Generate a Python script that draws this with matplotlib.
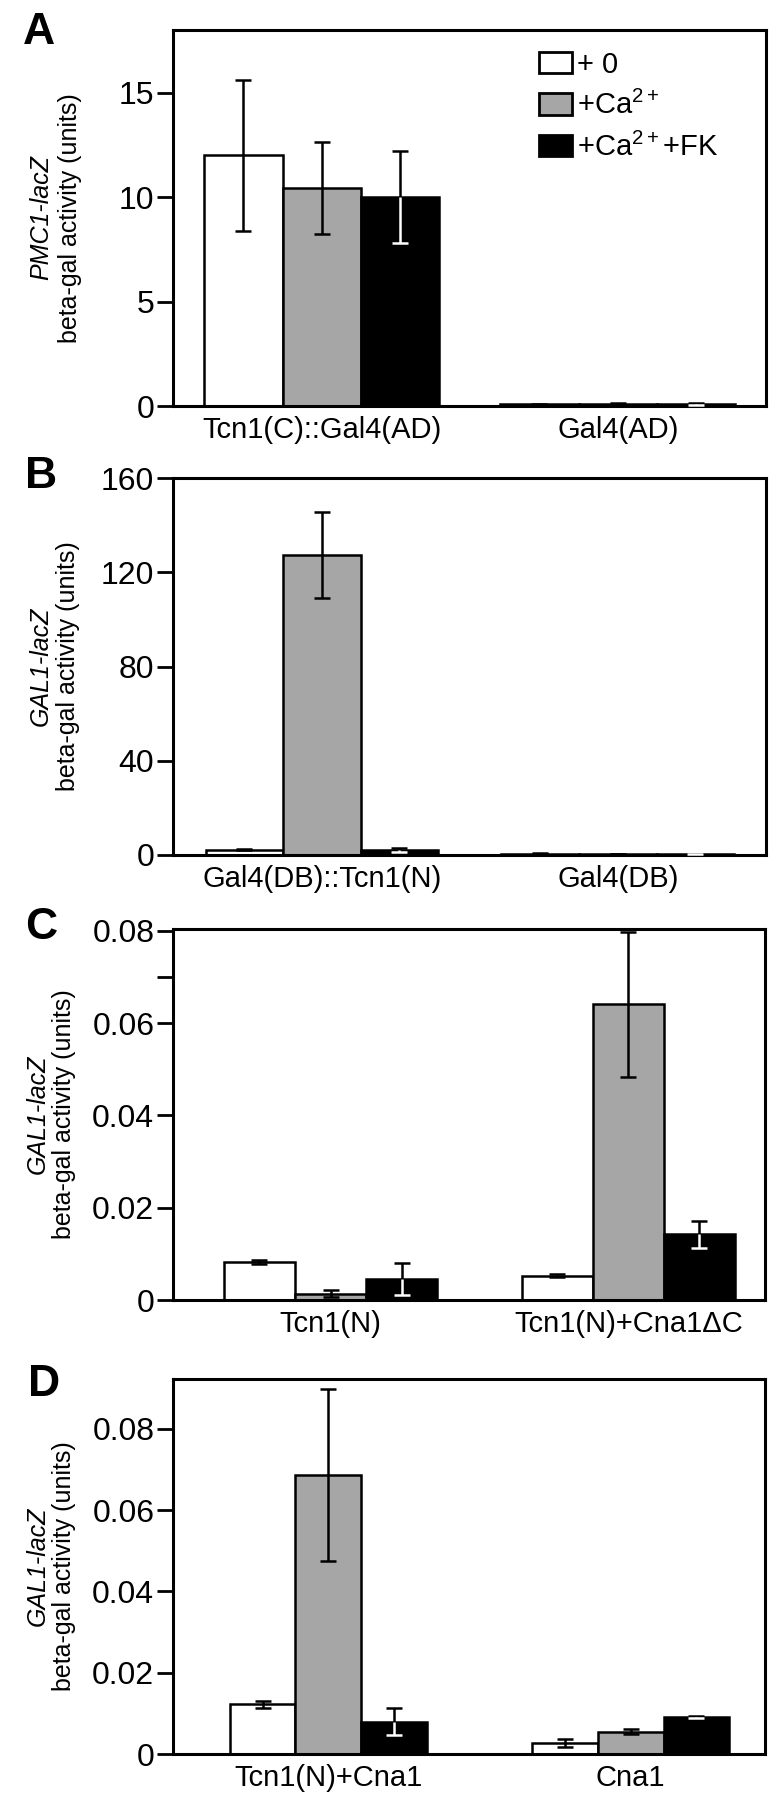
import numpy as np
import matplotlib
matplotlib.use("Agg")
import matplotlib.pyplot as plt
from matplotlib.patches import Patch

# ---- data ----
conditions = ["+ 0", "+Ca$^{2+}$", "+Ca$^{2+}$+FK"]

a_groups = ["Tcn1(C)::Gal4(AD)", "Gal4(AD)"]
a_zero = [12.0, 0.08]
a_ca = [10.45, 0.10]
a_fk = [10.0, 0.10]
a_zero_err = [3.6, 0.03]
a_ca_err = [2.2, 0.04]
a_fk_err = [2.2, 0.05]

b_groups = ["Gal4(DB)::Tcn1(N)", "Gal4(DB)"]
b_zero = [2.3, 0.6]
b_ca = [127.3, 0.5]
b_fk = [2.1, 0.5]
b_zero_err = [0.3, 0.1]
b_ca_err = [18.3, 0.1]
b_fk_err = [0.8, 0.1]

c_groups = ["Tcn1(N)", "Tcn1(N)+Cna1\u0394C"]
c_zero = [0.0082, 0.0053]
c_ca = [0.0014, 0.0641]
c_fk = [0.0045, 0.0142]
c_zero_err = [0.0004, 0.0004]
c_ca_err = [0.0007, 0.0157]
c_fk_err = [0.0035, 0.0030]

d_groups = ["Tcn1(N)+Cna1", "Cna1"]
d_zero = [0.0122, 0.0027]
d_ca = [0.0687, 0.0055]
d_fk = [0.0079, 0.0091]
d_zero_err = [0.0009, 0.0011]
d_ca_err = [0.0212, 0.0006]
d_fk_err = [0.0033, 0.0003]

ylabels_italic = ["PMC1-lacZ", "GAL1-lacZ", "GAL1-lacZ", "GAL1-lacZ"]
ylabel_main = "beta-gal activity (units)"

# ---- style ----
plt.rcParams["font.family"] = ["Liberation Sans", "DejaVu Sans"]
plt.rcParams["mathtext.fontset"] = "custom"
plt.rcParams["mathtext.rm"] = "Liberation Sans"
plt.rcParams["mathtext.it"] = "Liberation Sans:italic"
fills = ["white", "#a6a6a6", "black"]
LW = 1.8

W, H = 781, 1800
fig = plt.figure(figsize=(W / 100, H / 100), dpi=100)


def px_axes(left, top, right, bottom):
    return fig.add_axes([left / W, 1 - bottom / H, (right - left) / W, (bottom - top) / H])


def draw_panel(ax, groups, series, errs, bw, xlim, ylim, yticks, yticklabels):
    x = np.arange(len(groups))
    for k in range(3):
        xs = x + (k - 1) * bw
        vals = np.array(series[k])
        ee = np.array(errs[k])
        ax.bar(xs, vals, bw, color=fills[k], edgecolor="black", linewidth=LW, zorder=2)
        ax.errorbar(xs, vals, yerr=ee, fmt="none", ecolor="black", elinewidth=LW,
                    capsize=5.5, capthick=LW, zorder=3)
        if k == 2:
            # lower whisker shows white inside the black bar
            ax.errorbar(xs, vals - ee / 2, yerr=ee / 2, fmt="none", ecolor="white",
                        elinewidth=LW, capsize=0, zorder=4)
            ax.plot(xs, vals - ee, ls="none", marker="_", ms=11, mew=LW, color="white", zorder=4)
    ax.set_xlim(*xlim)
    ax.set_ylim(*ylim)
    ax.set_xticks(x)
    ax.set_xticklabels(groups, fontsize=21)
    ax.set_yticks(yticks)
    ax.set_yticklabels(yticklabels, fontsize=23)
    ax.tick_params(axis="x", length=0, pad=7)
    ax.tick_params(axis="y", length=11.5, width=2, pad=2)
    for sp in ax.spines.values():
        sp.set_linewidth(2.2)


# axes boxes in pixels (left, top, right, bottom)
ax_a = px_axes(173, 30, 766, 406)
ax_b = px_axes(173, 478, 766, 855)
ax_c = px_axes(173, 929, 765, 1300)
ax_d = px_axes(173, 1379, 765, 1754)

draw_panel(ax_a, a_groups, [a_zero, a_ca, a_fk], [a_zero_err, a_ca_err, a_fk_err],
           0.265, (-0.503, 1.501), (0, 18), [0, 5, 10, 15], ["0", "5", "10", "15"])
draw_panel(ax_b, b_groups, [b_zero, b_ca, b_fk], [b_zero_err, b_ca_err, b_fk_err],
           0.262, (-0.503, 1.501), (0, 160), [0, 40, 80, 120, 160], ["0", "40", "80", "120", "160"])
draw_panel(ax_c, c_groups, [c_zero, c_ca, c_fk], [c_zero_err, c_ca_err, c_fk_err],
           0.239, (-0.529, 1.459), (0, 0.0804), [0, 0.02, 0.04, 0.06, 0.08],
           ["0", "0.02", "0.04", "0.06", "0.08"])
ax_c.set_yticks([0.07], minor=True)
ax_c.tick_params(axis="y", which="minor", length=11.5, width=2)
draw_panel(ax_d, d_groups, [d_zero, d_ca, d_fk], [d_zero_err, d_ca_err, d_fk_err],
           0.217, (-0.513, 1.444), (0, 0.0923), [0, 0.02, 0.04, 0.06, 0.08],
           ["0", "0.02", "0.04", "0.06", "0.08"])

# legend in panel A
handles = [Patch(facecolor=f, edgecolor="black", linewidth=2) for f in fills]
ax_a.legend(handles, conditions, loc="upper left", bbox_to_anchor=(0.618, 0.945),
            frameon=False, fontsize=21, handlelength=1.1, handleheight=0.75,
            handletextpad=0.2, labelspacing=0.42, borderaxespad=0, borderpad=0)

# two-line y labels
label_x = [(41, 70), (41, 68), (38, 64), (38, 64)]
for ax, it_text, (x1, x2) in zip([ax_a, ax_b, ax_c, ax_d], ylabels_italic, label_x):
    pos = ax.get_position()
    yc = pos.y0 + pos.height / 2
    fig.text(x1 / W, yc, it_text, rotation=90, ha="center", va="center",
             fontsize=18, style="italic")
    fig.text(x2 / W, yc, ylabel_main, rotation=90, ha="center", va="center", fontsize=18)

# panel letters
for letter, (lx, ly) in zip("ABCD", [(23, 12), (25, 456), (25, 907), (28, 1364)]):
    fig.text(lx / W, 1 - ly / H, letter, fontsize=32, fontweight="bold", ha="left", va="top")

fig.savefig("out.png", dpi=100)
